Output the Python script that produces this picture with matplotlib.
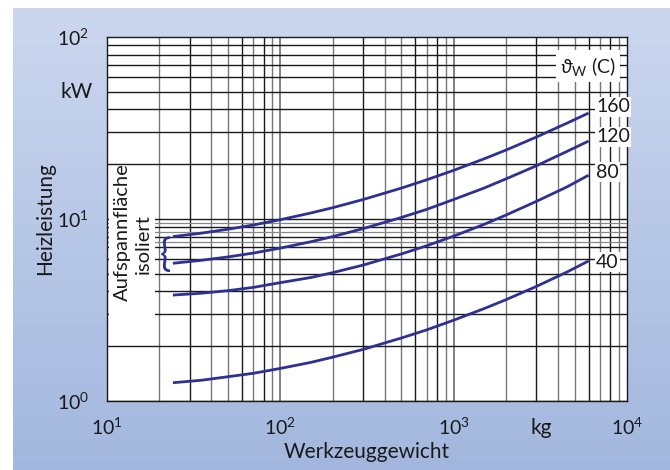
import numpy as np
import matplotlib
matplotlib.use("Agg")
import matplotlib.pyplot as plt
from matplotlib.patches import Rectangle

plt.rcParams["font.family"] = ["Lato", "DejaVu Sans"]
plt.rcParams["mathtext.fontset"] = "custom"
plt.rcParams["mathtext.rm"] = "Lato"
plt.rcParams["mathtext.it"] = "Lato:italic"

# ------------------------------------------------------------------
# data (kg -> kW)
# ------------------------------------------------------------------
weight = [24, 35, 50, 70, 100, 150, 200, 300, 500, 700, 1000, 1500, 2000, 3000, 4500, 6000]
power_160 = [8.00, 8.36, 8.79, 9.27, 9.91, 10.79, 11.53, 12.79, 14.79, 16.43,
             18.51, 21.42, 23.9, 28.2, 33.6, 38.2]
power_120 = [5.71, 5.93, 6.19, 6.50, 6.92, 7.50, 8.00, 8.85, 10.2, 11.3,
             12.8, 14.8, 16.6, 19.6, 23.5, 26.8]
power_80 = [3.82, 3.91, 4.04, 4.21, 4.47, 4.77, 5.07, 5.58, 6.43, 7.13,
            8.05, 9.35, 10.5, 12.5, 15.0, 17.4]
power_40 = [1.26, 1.30, 1.36, 1.42, 1.51, 1.63, 1.74, 1.92, 2.22, 2.46,
            2.78, 3.22, 3.60, 4.26, 5.11, 5.88]
series_labels = ["160", "120", "80", "40"]

x_ticks = [10, 100, 1000, 10000]
x_tick_labels = ["$10^1$", "$10^2$", "$10^3$", "$10^4$"]
y_ticks = [1, 10, 100]
y_tick_labels = ["$10^0$", "$10^1$", "$10^2$"]

minor_steps = [2, 3, 4, 5, 6, 7, 8, 9]
x_dark_steps = [3, 6, 8]
extra_y_lines = [7.5, 8.5, 9.5]

CURVE = "#2d3192"
INK = "#1a1a1a"

fig = plt.figure(figsize=(6.7, 4.7), dpi=100)
fig.patch.set_facecolor("white")

# gradient background panel
bg = fig.add_axes([13 / 670, 0, 1 - 13 / 670, 462.5 / 470])
grad = np.linspace(0, 1, 256).reshape(-1, 1)
top_c = np.array([0xcc, 0xd7, 0xef]) / 255
bot_c = np.array([0xa3, 0xb7, 0xde]) / 255
img = top_c[None, None, :] * (1 - grad[..., None]) + bot_c[None, None, :] * grad[..., None]
bg.imshow(img, aspect="auto", extent=[0, 1, 0, 1])
bg.axis("off")

ax = fig.add_axes([107 / 670, 69 / 470, 520 / 670, 364 / 470])
ax.set_facecolor("white")
ax.set_xscale("log")
ax.set_yscale("log")
ax.set_xlim(10, 10000)
ax.set_ylim(1, 100)

# grid
for dec in [10, 100, 1000]:
    for s in minor_steps:
        c = INK if s in x_dark_steps else "#777777"
        ax.axvline(dec * s, color=c, lw=1.0, zorder=1)
    if dec > 10:
        ax.axvline(dec, color="#777777", lw=1.3, zorder=1)
for dec in [1, 10]:
    for s in minor_steps:
        ax.axhline(dec * s, color=INK, lw=1.0, zorder=1)
    ax.axhline(dec, color=INK, lw=1.0, zorder=1)
for v in extra_y_lines:
    ax.axhline(v, color="#888888", lw=0.9, zorder=1)

# white box behind the rotated note
ax.add_patch(Rectangle((0.004, 0.181), 0.089, 0.455, transform=ax.transAxes,
                       facecolor="white", edgecolor="none", zorder=2))

for ys in [power_160, power_120, power_80, power_40]:
    ax.plot(weight, ys, color=CURVE, lw=2.0, zorder=4, solid_capstyle="butt")

for spine in ax.spines.values():
    spine.set_color(INK)
    spine.set_linewidth(1.0)
    spine.set_zorder(5)

ax.set_xticks(x_ticks)
ax.set_xticklabels(x_tick_labels)
ax.set_yticks(y_ticks)
ax.set_yticklabels(y_tick_labels)
ax.minorticks_off()
ax.tick_params(axis="both", length=0, labelsize=14, colors=INK)
ax.tick_params(axis="x", pad=11)
ax.tick_params(axis="y", pad=13)

ax.set_xlabel("Werkzeuggewicht", fontsize=15, color=INK, labelpad=3)
ax.set_ylabel("Heizleistung", fontsize=15, color=INK)
ax.yaxis.set_label_coords(-0.100, 0.5)

fig.text(541 / 670, 1 - 428 / 470, "kg", fontsize=15, ha="center", va="center", color=INK)
fig.text(77 / 670, 1 - 92 / 470, "kW", fontsize=15, ha="center", va="center", color=INK)

# curve labels
label_y = [107, 137, 172, 262]
box = dict(facecolor="white", edgecolor="none", pad=1.0)
for lab, py in zip(series_labels, label_y):
    ax.text((596 - 107) / 520, (401 - py) / 364, lab, transform=ax.transAxes,
            fontsize=14, ha="left", va="center", color=INK, bbox=box, zorder=6)

ax.text((588 - 107) / 520, (401 - 66) / 364, r"$\vartheta_{\mathrm{W}}$ (C)",
        transform=ax.transAxes, fontsize=14, ha="center", va="center",
        color=INK, bbox=dict(facecolor="white", edgecolor="none", pad=3), zorder=6)

# note on the left
ax.text((122 - 107) / 520, (401 - 232) / 364, "Aufspannfläche", transform=ax.transAxes,
        rotation=90, fontsize=14.5, ha="center", va="center", color=INK, zorder=6)
ax.text((143 - 107) / 520, (401 - 244) / 364, "isoliert", transform=ax.transAxes,
        rotation=90, fontsize=14.5, ha="center", va="center", color=INK, zorder=6)
ax.text((165 - 107) / 520, (401 - 255) / 364, "{", transform=ax.transAxes,
        fontsize=27, ha="center", va="center", color=CURVE, zorder=6,
        family="Lato")

fig.savefig("out.png", dpi=100)
